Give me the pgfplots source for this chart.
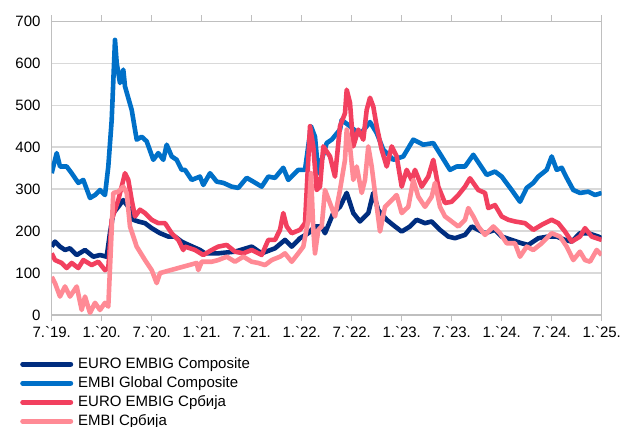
\documentclass[border=0pt]{standalone}
\usepackage{fontspec}
\setmainfont{Liberation Sans}
\usepackage{pgfplots}
\pgfplotsset{compat=1.18}
\definecolor{navyc}{HTML}{002D7F}
\definecolor{bluec}{HTML}{0070C8}
\definecolor{redc}{HTML}{F2405F}
\definecolor{pinkc}{HTML}{FF8A95}
\definecolor{gridc}{HTML}{D9D9D9}
\definecolor{axisc}{HTML}{BFBFBF}
\begin{document}
\fontsize{15pt}{18pt}\selectfont
\begin{tikzpicture}
\useasboundingbox (-51.7pt,-112pt) rectangle (570.3pt,315pt);
\begin{axis}[
    scale only axis,
    width=550pt, height=293.6pt,
    xmin=2019.5, xmax=2025, ymin=0, ymax=700,
    xtick={2019.5,2020,2020.5,2021,2021.5,2022,2022.5,2023,2023.5,2024,2024.5,2025},
    xticklabels={7.\textasciigrave19.,1.\textasciigrave20.,7.\textasciigrave20.,1.\textasciigrave21.,7.\textasciigrave21.,1.\textasciigrave22.,7.\textasciigrave22.,1.\textasciigrave23.,7.\textasciigrave23.,1.\textasciigrave24.,7.\textasciigrave24.,1.\textasciigrave25.},
    ytick={0,100,200,300,400,500,600,700},
    ymajorgrids,
    grid style={gridc, line width=1.5pt},
    axis line style={axisc, line width=1.5pt},
    xtick style={axisc, line width=1.5pt},
    ytick style={draw=none},
    major tick length=6pt,
    tick align=outside,
    tick label style={font=\fontsize{15pt}{18pt}\selectfont},
    /pgf/number format/assume math mode=true,
    legend style={at={(-0.0576,-0.1345)}, anchor=north west, draw=none, fill=none,
        inner sep=0pt, column sep=2.5pt, row sep=0pt,
        font=\fontsize{15pt}{18pt}\selectfont,
        nodes={inner sep=2.5pt, text height=11pt, text depth=3pt}},
    legend cell align=left,
    legend image code/.code={\draw[#1, line width=5pt, line cap=round] (2.5pt,0pt) -- (50.5pt,0pt);},
    every axis plot/.append style={line width=4.6pt, line join=round},
]
% EURO EMBIG Composite
\addplot[navyc] coordinates {
(2019.500,163)(2019.533,175)(2019.583,163)(2019.633,155)(2019.683,159)(2019.750,143)
(2019.833,155)(2019.916,139)(2019.983,143)(2020.050,139)(2020.083,196)(2020.116,243)
(2020.166,258)(2020.216,274)(2020.266,258)(2020.316,227)(2020.366,223)(2020.433,219)
(2020.500,207)(2020.583,195)(2020.666,187)(2020.733,187)(2020.800,175)(2020.833,171)
(2020.983,155)(2021.033,147)(2021.163,147)(2021.333,151)(2021.500,163)(2021.600,147)
(2021.733,159)(2021.833,179)(2021.900,163)(2021.983,183)(2022.066,195)(2022.133,211)
(2022.200,211)(2022.233,195)(2022.316,243)(2022.383,258)(2022.450,291)(2022.516,243)
(2022.583,223)(2022.666,243)(2022.716,291)(2022.766,250)(2022.850,227)(2022.933,211)
(2023.000,199)(2023.083,211)(2023.150,227)(2023.233,219)(2023.300,223)(2023.383,203)
(2023.466,187)(2023.533,183)(2023.633,191)(2023.700,211)(2023.766,203)(2023.833,195)
(2023.933,203)(2024.000,187)(2024.100,179)(2024.200,171)(2024.266,167)(2024.366,183)
(2024.466,187)(2024.550,187)(2024.633,179)(2024.700,175)(2024.783,195)(2024.866,195)
(2024.966,187)(2025.000,183)};
\addlegendentry{EURO EMBIG Composite}
% EMBI Global Composite
\addplot[bluec] coordinates {
(2019.500,338)(2019.550,386)(2019.583,354)(2019.650,354)(2019.700,338)(2019.766,315)
(2019.816,322)(2019.883,279)(2019.933,286)(2019.983,298)(2020.033,286)(2020.066,354)
(2020.100,465)(2020.133,656)(2020.150,601)(2020.183,553)(2020.216,585)(2020.233,545)
(2020.300,489)(2020.350,418)(2020.400,425)(2020.450,414)(2020.516,370)(2020.566,386)
(2020.616,370)(2020.650,406)(2020.700,378)(2020.750,370)(2020.800,346)(2020.833,346)
(2020.900,322)(2020.983,330)(2021.016,310)(2021.083,338)(2021.150,318)(2021.216,315)
(2021.300,306)(2021.366,303)(2021.450,327)(2021.516,318)(2021.600,306)(2021.666,330)
(2021.733,327)(2021.816,351)(2021.866,322)(2021.966,346)(2022.033,346)(2022.093,450)
(2022.133,425)(2022.166,338)(2022.200,370)(2022.250,410)(2022.300,418)(2022.383,442)
(2022.400,465)(2022.483,450)(2022.583,430)(2022.683,460)(2022.750,434)(2022.816,394)
(2022.916,370)(2023.016,378)(2023.116,418)(2023.216,406)(2023.316,410)(2023.400,378)
(2023.483,346)(2023.550,354)(2023.633,354)(2023.716,382)(2023.783,358)(2023.850,334)
(2023.933,342)(2024.000,330)(2024.100,298)(2024.183,270)(2024.250,303)(2024.316,315)
(2024.366,330)(2024.450,346)(2024.500,378)(2024.550,346)(2024.600,351)(2024.650,327)
(2024.716,298)(2024.783,291)(2024.866,294)(2024.933,286)(2025.000,291)};
\addlegendentry{EMBI Global Composite}
% EURO EMBIG Srbija
\addplot[redc] coordinates {
(2019.500,147)(2019.533,131)(2019.600,124)(2019.650,112)(2019.700,124)(2019.766,112)
(2019.816,131)(2019.900,119)(2019.966,127)(2020.033,107)(2020.066,112)(2020.100,227)
(2020.166,274)(2020.233,338)(2020.266,322)(2020.300,274)(2020.333,235)(2020.383,251)
(2020.433,243)(2020.500,227)(2020.566,219)(2020.633,219)(2020.700,195)(2020.766,179)
(2020.816,155)(2020.833,163)(2020.933,155)(2021.016,143)(2021.100,155)(2021.166,163)
(2021.250,167)(2021.333,151)(2021.416,147)(2021.500,155)(2021.600,143)(2021.666,179)
(2021.733,179)(2021.783,203)(2021.816,243)(2021.850,211)(2021.900,195)(2021.983,203)
(2022.033,219)(2022.083,450)(2022.116,402)(2022.150,298)(2022.183,306)(2022.216,402)
(2022.283,378)(2022.333,330)(2022.383,450)(2022.433,481)(2022.450,537)(2022.483,506)
(2022.516,402)(2022.566,442)(2022.616,418)(2022.650,489)(2022.683,518)(2022.716,497)
(2022.750,450)(2022.800,394)(2022.850,354)(2022.900,402)(2022.950,378)(2023.000,306)
(2023.050,346)(2023.100,322)(2023.133,346)(2023.200,306)(2023.266,330)(2023.316,370)
(2023.366,306)(2023.433,267)(2023.500,270)(2023.566,286)(2023.633,306)(2023.683,326)
(2023.766,298)(2023.833,291)(2023.866,255)(2023.933,262)(2024.000,235)(2024.066,227)
(2024.133,223)(2024.233,219)(2024.316,203)(2024.400,215)(2024.500,227)(2024.566,219)
(2024.633,199)(2024.700,175)(2024.783,187)(2024.833,207)(2024.900,187)(2025.000,179)};
\addlegendentry{EURO EMBIG Србија}
% EMBI Srbija
\addplot[pinkc] coordinates {
(2019.500,91)(2019.533,76)(2019.583,44)(2019.633,68)(2019.683,44)(2019.750,68)
(2019.800,12)(2019.833,44)(2019.883,5)(2019.933,29)(2019.983,12)(2020.033,29)
(2020.066,20)(2020.116,291)(2020.166,294)(2020.216,306)(2020.250,291)(2020.283,211)
(2020.350,163)(2020.433,131)(2020.500,107)(2020.550,76)(2020.583,100)(2020.950,124)
(2020.966,107)(2021.000,127)(2021.100,127)(2021.166,131)(2021.250,139)(2021.333,127)
(2021.416,139)(2021.500,127)(2021.566,124)(2021.633,119)(2021.700,131)(2021.783,139)
(2021.833,147)(2021.900,127)(2021.966,147)(2022.016,163)(2022.066,227)(2022.093,338)
(2022.116,203)(2022.133,147)(2022.166,203)(2022.200,211)(2022.233,298)(2022.333,235)
(2022.383,298)(2022.433,370)(2022.450,442)(2022.483,402)(2022.516,322)(2022.550,354)
(2022.600,291)(2022.633,322)(2022.666,402)(2022.700,354)(2022.733,291)(2022.783,199)
(2022.833,258)(2022.900,274)(2022.950,286)(2023.000,243)(2023.066,258)(2023.116,322)
(2023.166,282)(2023.233,258)(2023.300,282)(2023.333,315)(2023.383,258)(2023.433,235)
(2023.500,223)(2023.566,211)(2023.633,227)(2023.666,255)(2023.716,235)(2023.766,211)
(2023.833,191)(2023.916,211)(2023.983,195)(2024.050,171)(2024.133,171)(2024.183,139)
(2024.250,163)(2024.316,155)(2024.400,171)(2024.500,195)(2024.583,187)(2024.650,163)
(2024.716,131)(2024.783,151)(2024.833,131)(2024.883,127)(2024.950,155)(2025.000,143)};
\addlegendentry{EMBI Србија}
\end{axis}
\end{tikzpicture}
\end{document}
